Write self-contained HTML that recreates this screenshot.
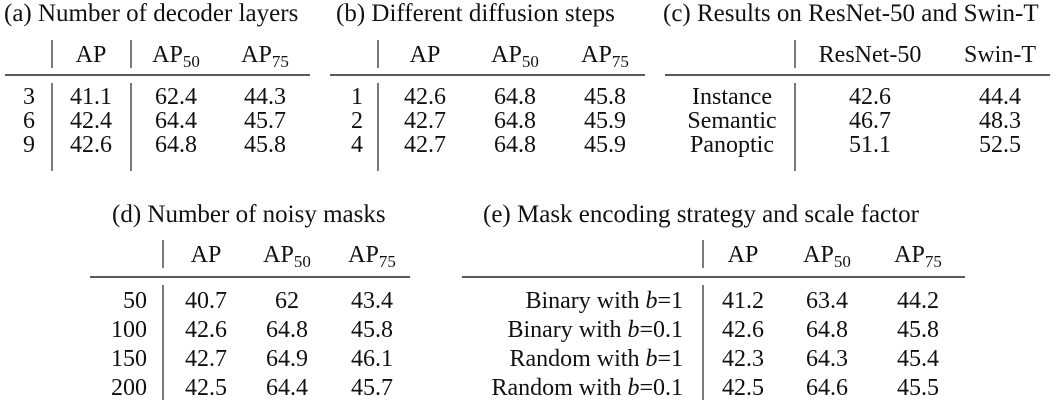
<!DOCTYPE html>
<html><head><meta charset="utf-8"><style>
html,body{margin:0;padding:0;background:#fff;}
svg{display:block;font-family:"Liberation Serif","Times New Roman",serif;fill:#111;}
</style></head><body>
<svg id="s" width="1057" height="400" viewBox="0 0 1057 400"></svg>
<script>
const tA_rows=["3","6","9"];
const tA_vals=[["41.1","62.4","44.3"],["42.4","64.4","45.7"],["42.6","64.8","45.8"]];
const tB_rows=["1","2","4"];
const tB_vals=[["42.6","64.8","45.8"],["42.7","64.8","45.9"],["42.7","64.8","45.9"]];
const tC_rows=["Instance","Semantic","Panoptic"];
const tC_vals=[["42.6","44.4"],["46.7","48.3"],["51.1","52.5"]];
const tD_rows=["50","100","150","200"];
const tD_vals=[["40.7","62","43.4"],["42.6","64.8","45.8"],["42.7","64.9","46.1"],["42.5","64.4","45.7"]];
const tE_rows=[["Binary with ","1"],["Binary with ","0.1"],["Random with ","1"],["Random with ","0.1"]];
const tE_vals=[["41.2","63.4","44.2"],["42.6","64.8","45.8"],["42.3","64.3","45.4"],["42.5","64.6","45.5"]];
const NS="http://www.w3.org/2000/svg";
const svg=document.getElementById('s');
const FS=24, TS=25;
function mk(tag,attrs,parent){const e=document.createElementNS(NS,tag);for(const k in attrs)e.setAttribute(k,attrs[k]);(parent||svg).appendChild(e);return e;}
function txt(x,y,s,anchor,size,name){const t=mk('text',{x:x,y:y,'text-anchor':anchor,'font-size':size});t.textContent=s;


return t;}
function hdr(x,y,sub,name){const t=mk('text',{x:x,y:y,'text-anchor':'middle','font-size':FS});


const a=mk('tspan',{},t);a.textContent='AP';if(sub){const b=mk('tspan',{'font-size':17,dy:5},t);b.textContent=sub;}}
function line(x1,y1,x2,y2,w,name){const l=mk('line',{x1:x1,y1:y1,x2:x2,y2:y2,stroke:'#222','stroke-width':w});

}
function table(o){
  txt(o.tx,o.ty,o.title,'start',TS,o.id+'-title');
  o.heads.forEach((h,i)=>{ if(h[0]==='AP') hdr(o.cols[i],o.hy,h[1],o.id+'-header'); else txt(o.cols[i],o.hy,h[1],'middle',FS,o.id+'-header');});
  line(o.r1,o.ry,o.r2,o.ry,1.5,o.id+'-rule');
  o.vbars.forEach(v=>{line(v,o.hy-22,v,o.hy+6,1.2,o.id+'-header-separator');line(v,o.ry+8,v,o.vb,1.2,o.id+'-column-separator');});
  o.rows.forEach((r,i)=>{const y=o.by+i*o.step;
    if(Array.isArray(r)){const t=mk('text',{x:o.lx,y:y,'text-anchor':o.la,'font-size':FS});
      
      
      const a=mk('tspan',{},t);a.textContent=r[0];const b=mk('tspan',{'font-style':'italic'},t);b.textContent='b';const c=mk('tspan',{},t);c.textContent='='+r[1];}
    else txt(o.lx,y,r,o.la,FS,o.id+'-row-label');
    o.vals[i].forEach((v,j)=>txt(o.cols[j],y,v,'middle',FS,o.id+'-cell'));});
}
table({id:'table-a',title:'(a) Number of decoder layers',tx:4,ty:21,hy:62,ry:75,r1:5,r2:310,vbars:[52,131],vb:171,
 heads:[['AP',''],['AP','50'],['AP','75']],cols:[91,176,265],rows:tA_rows,vals:tA_vals,lx:35,la:'end',by:104,step:24});
table({id:'table-b',title:'(b) Different diffusion steps',tx:336,ty:21,hy:62,ry:75,r1:330,r2:645,vbars:[378],vb:171,
 heads:[['AP',''],['AP','50'],['AP','75']],cols:[425,515,605],rows:tB_rows,vals:tB_vals,lx:357,la:'middle',by:104,step:24});
table({id:'table-c',title:'(c) Results on ResNet-50 and Swin-T',tx:663,ty:21,hy:62,ry:75,r1:665,r2:1050,vbars:[795],vb:171,
 heads:[['T','ResNet-50'],['T','Swin-T']],cols:[870,1000],rows:tC_rows,vals:tC_vals,lx:732,la:'middle',by:104,step:24});
table({id:'table-d',title:'(d) Number of noisy masks',tx:112,ty:222,hy:262,ry:277,r1:90,r2:410,vbars:[163],vb:400,
 heads:[['AP',''],['AP','50'],['AP','75']],cols:[206,287,372],rows:tD_rows,vals:tD_vals,lx:147,la:'end',by:308,step:29});
table({id:'table-e',title:'(e) Mask encoding strategy and scale factor',tx:483,ty:222,hy:262,ry:277,r1:462,r2:965,vbars:[703],vb:400,
 heads:[['AP',''],['AP','50'],['AP','75']],cols:[743,827,918],rows:tE_rows,vals:tE_vals,lx:683,la:'end',by:308,step:29});
</script>
</body></html>
